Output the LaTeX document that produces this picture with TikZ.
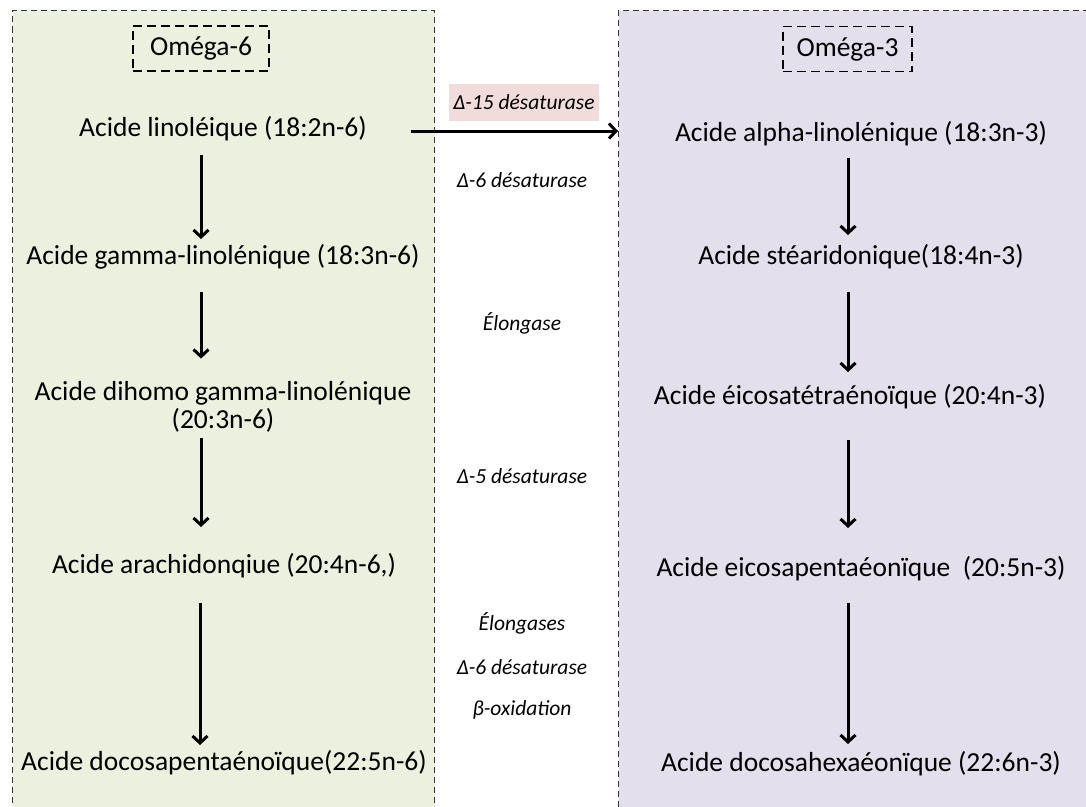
\documentclass[tikz,border=0pt]{standalone}
\usepackage{fontspec}
\setmainfont{Carlito}
\usetikzlibrary{arrows.meta}
\definecolor{greenfill}{HTML}{EBF1DE}
\definecolor{purplefill}{HTML}{E4DFEC}
\definecolor{pinkfill}{HTML}{F2DCDB}
\tikzset{
  panel/.style={draw=black!80, line width=1pt, dash pattern=on 6pt off 4pt,
    anchor=north west, minimum height=830pt, inner sep=0pt},
  omega/.style={draw, line width=1.8pt, dash pattern=on 9pt off 5pt,
    minimum height=45pt, font=\fontsize{27.5}{33}\selectfont},
  acid/.style={inner sep=0pt, outer sep=0pt, text height=19pt, text depth=7pt,
    font=\fontsize{27.5}{28}\selectfont},
  acidtwo/.style={inner sep=0pt, outer sep=0pt, align=center,
    font=\fontsize{27.5}{28}\selectfont},
  enzyme/.style={font=\fontsize{21.5}{25}\selectfont\itshape},
  flow/.style={line width=3pt, -{Straight Barb[length=7pt,width=15pt,line width=3pt]}}
}
\begin{document}
\begin{tikzpicture}[x=1pt, y=-1pt]
  \useasboundingbox (0,0) rectangle (1086,806);
  \clip (0,0) rectangle (1086,806);
  \node[panel, fill=greenfill, minimum width=422pt] (pan6) at (12,10) {};
  \node[panel, fill=purplefill, minimum width=500pt] (pan3) at (618,10) {};
  \node[omega, minimum width=136pt] (o6) at (201,48.5) {Oméga-6};
  \node[omega, minimum width=129pt] (o3) at (847.5,49) {Oméga-3};
  \coordinate (colL) at (201,0);
  \coordinate (colR) at (848,0);
  % omega-6
  \node[acid] (lino) at (223,130) {Acide linoléique (18:2n-6)};
  \node[acid] (gamma) at (223,258) {Acide gamma-linolénique (18:3n-6)};
  \node[acidtwo] (dihomo) at (223,407) {Acide dihomo gamma-linolénique\\(20:3n-6)};
  \node[acid] (arach) at (224,567) {Acide arachidonqiue (20:4n-6,)};
  \node[acid] (dpa) at (224,764) {Acide docosapentaénoïque(22:5n-6)};
  % omega-3
  \node[acid] (ala) at (861,135) {Acide alpha-linolénique (18:3n-3)};
  \node[acid] (sda) at (861,258) {Acide stéaridonique(18:4n-3)};
  \node[acid] (eta) at (850,398) {Acide éicosatétraénoïque (20:4n-3)};
  \node[acid] (epa) at (861,570) {Acide eicosapentaéonïque~ (20:5n-3)};
  \node[acid] (dha) at (861,765) {Acide docosahexaéonïque (22:6n-3)};
  % enzymes
  \node[enzyme, fill=pinkfill, minimum width=150pt, minimum height=37pt] (d15) at (524,102.5) {Δ-15 désaturase};
  \node[enzyme] (d6a) at (522,180) {Δ-6 désaturase};
  \node[enzyme] (elo) at (522,323) {Élongase};
  \node[enzyme] (d5) at (522,476) {Δ-5 désaturase};
  \node[enzyme] (elos) at (522,623) {Élongases};
  \node[enzyme] (d6b) at (522,667) {Δ-6 désaturase};
  \node[enzyme] (box) at (522,710) {β-oxidation};
  % arrows
  \draw[flow, shorten <=12pt, shorten >=6pt] (lino.south -| colL) -- (gamma.north -| colL);
  \draw[flow, shorten <=21pt, shorten >=23pt] (gamma.south -| colL) -- (dihomo.north -| colL);
  \draw[flow, shorten <=6pt, shorten >=27pt] (dihomo.south -| colL) -- (arach.north -| colL);
  \draw[flow, shorten <=23pt, shorten >=6pt] ([xshift=-1pt]arach.south -| colL) -- ([xshift=-1pt]dpa.north -| colL);
  \draw[flow, shorten <=10pt, shorten >=10pt] (ala.south -| colR) -- (sda.north -| colR);
  \draw[flow, shorten <=21pt, shorten >=13pt] (sda.south -| colR) -- (eta.north -| colR);
  \draw[flow, shorten <=29pt, shorten >=29pt] (eta.south -| colR) -- (epa.north -| colR);
  \draw[flow, shorten <=20pt, shorten >=8pt] (epa.south -| colR) -- (dha.north -| colR);
  \draw[flow, shorten <=44pt] ([yshift=-1pt]lino.east) -- ([yshift=-1pt]lino.east -| pan3.west);
\end{tikzpicture}
\end{document}
